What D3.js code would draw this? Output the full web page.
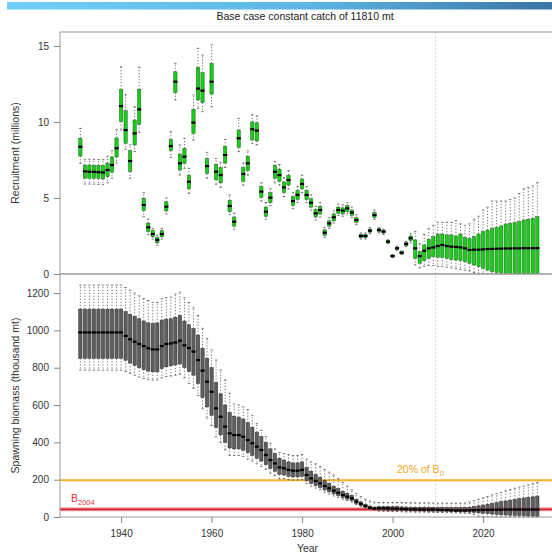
<!DOCTYPE html>
<html>
<head>
<meta charset="utf-8">
<script src="https://cdn.jsdelivr.net/npm/d3@7"></script>
<style>
  body { margin: 0; background: #fff; }
  svg { display: block; font-family: "Liberation Sans", Arial, sans-serif; }
</style>
</head>
<body>
<div id="chart"></div>
<script>
// years 1931 - 2032, one box per year
var firstYear = 1931
var lastYear = 2032
var projStart = 2009.5

// recruitment (millions): median, quartiles, 5% / 95%
var recMed = [
  8.37, 6.75, 6.73, 6.72, 6.70, 6.68, 6.84, 7.17, 8.27, 11.05,
  9.47, 7.43, 9.25, 10.83, 4.54, 3.07, 2.63, 2.24, 2.63, 4.43,
  8.42, 12.65, 7.28, 7.72, 6.07, 9.96, 12.2, 12.06, 7.1, 12.65,
  6.73, 6.51, 7.83, 4.47, 3.44, 8.93, 6.58, 7.28, 9.52, 9.43,
  5.42, 4.1, 5.02, 6.73, 6.51, 5.7, 6.18, 4.8, 5.2, 5.92,
  5.2, 4.69, 3.99, 4.21, 2.72, 3.33, 3.73, 4.21, 4.17, 4.32,
  4.04, 3.55, 2.5, 2.5, 2.85, 3.88, 2.89, 2.79, 2.13, 1.18,
  1.69, 1.4, 1.97, 2.35, 1.69, 1.18, 1.53, 1.69, 1.75, 1.84,
  1.91, 1.84, 1.8, 1.78, 1.75, 1.69, 1.58, 1.6, 1.6, 1.62,
  1.64, 1.65, 1.66, 1.67, 1.68, 1.68, 1.69, 1.69, 1.7, 1.7,
  1.7, 1.7
]
var recQ25 = [
  7.76, 6.3, 6.29, 6.28, 6.27, 6.25, 6.4, 6.7, 7.7, 10.02,
  8.6, 6.73, 8.49, 9.85, 4.17, 2.8, 2.45, 2.05, 2.45, 4.15,
  8.11, 11.93, 6.84, 7.28, 5.6, 9.25, 11.45, 11.27, 6.6, 11.84,
  6.2, 6.0, 7.3, 4.1, 3.15, 8.33, 6.1, 6.8, 8.82, 8.75,
  5.05, 3.8, 4.7, 6.3, 6.1, 5.35, 5.85, 4.5, 4.9, 5.6,
  4.9, 4.4, 3.75, 3.95, 2.55, 3.15, 3.5, 4.0, 3.95, 4.1,
  3.85, 3.4, 2.4, 2.4, 2.75, 3.72, 2.8, 2.7, 2.05, 1.12,
  1.62, 1.33, 1.88, 2.2, 1.03, 0.7, 0.88, 1.03, 1.14, 1.1,
  1.1, 1.03, 0.96, 0.92, 0.88, 0.81, 0.7, 0.59, 0.48, 0.37,
  0.26, 0.15, 0.1, 0.05, 0.02, 0, 0, 0, 0, 0,
  0, 0
]
var recQ75 = [
  8.93, 7.17, 7.17, 7.16, 7.15, 7.14, 7.3, 7.7, 8.95, 12.15,
  10.74, 8.11, 10.13, 12.15, 4.98, 3.35, 2.85, 2.4, 2.85, 4.75,
  8.86, 13.3, 7.89, 8.27, 6.5, 10.83, 13.6, 13.24, 7.6, 13.86,
  7.2, 7.0, 8.4, 4.85, 3.75, 9.47, 7.0, 7.75, 10.0, 9.95,
  5.75, 4.4, 5.35, 7.15, 6.9, 6.05, 6.5, 5.1, 5.5, 6.25,
  5.5, 4.95, 4.25, 4.45, 2.9, 3.5, 3.95, 4.4, 4.35, 4.5,
  4.2, 3.7, 2.6, 2.6, 2.95, 4.05, 2.98, 2.88, 2.2, 1.24,
  1.76, 1.47, 2.06, 2.5, 2.24, 1.47, 1.91, 2.28, 2.46, 2.63,
  2.63, 2.57, 2.57, 2.5, 2.63, 2.41, 2.35, 2.46, 2.63, 2.79,
  2.89, 3.0, 3.07, 3.16, 3.29, 3.33, 3.38, 3.45, 3.55, 3.6,
  3.66, 3.77
]
var recLo = [
  7.28, 5.92, 5.92, 5.91, 5.9, 5.88, 6.0, 6.3, 7.3, 9.47,
  8.2, 6.3, 8.05, 9.3, 3.77, 2.6, 2.3, 1.9, 2.3, 3.95,
  7.68, 11.45, 6.51, 6.95, 5.3, 8.82, 10.9, 10.68, 6.3, 11.0,
  5.9, 5.7, 7.0, 3.9, 2.95, 8.05, 5.85, 6.5, 8.6, 8.5,
  4.8, 3.6, 4.5, 6.0, 5.85, 5.1, 5.6, 4.3, 4.7, 5.35,
  4.7, 4.2, 3.55, 3.75, 2.4, 3.0, 3.35, 3.85, 3.8, 3.95,
  3.7, 3.25, 2.3, 2.3, 2.65, 3.6, 2.7, 2.6, 2.0, 1.08,
  1.56, 1.28, 1.8, 2.05, 0.6, 0.4, 0.5, 0.55, 0.55, 0.5,
  0.5, 0.45, 0.4, 0.35, 0.3, 0.25, 0.2, 0.1, 0.05, 0,
  0, 0, 0, 0, 0, 0, 0, 0, 0, 0,
  0, 0
]
var recHi = [
  9.58, 7.55, 7.55, 7.54, 7.53, 7.52, 7.75, 8.1, 9.5, 13.64,
  11.8, 8.5, 11.0, 13.6, 5.35, 3.6, 3.0, 2.55, 3.0, 5.0,
  9.36, 13.86, 8.49, 8.93, 6.95, 11.78, 14.85, 14.4, 8.0, 15.07,
  7.6, 7.35, 8.85, 5.2, 4.0, 10.24, 7.3, 8.1, 10.5, 10.4,
  6.0, 4.7, 5.6, 7.4, 7.2, 6.35, 6.8, 5.35, 5.75, 6.5,
  5.75, 5.2, 4.45, 4.7, 3.05, 3.7, 4.15, 4.6, 4.55, 4.7,
  4.4, 3.9, 2.7, 2.7, 3.05, 4.2, 3.05, 2.95, 2.25, 1.28,
  1.82, 1.52, 2.14, 2.65, 2.8, 2.0, 2.6, 3.0, 3.2, 3.4,
  3.4, 3.4, 3.4, 3.5, 3.3, 3.2, 3.3, 3.6, 3.8, 4.2,
  4.4, 4.8, 4.8, 4.8, 4.8, 4.9, 5.0, 5.3, 5.6, 5.7,
  5.8, 6.0
]

// spawning biomass (thousand mt)
var ssbMed = [
  989, 989, 989, 989, 989, 989, 989, 989, 989, 989,
  970, 952, 939, 927, 916, 904, 898, 898, 916, 927,
  930, 935, 945, 920, 905, 886, 841, 784, 725, 671,
  582, 537, 484, 448, 439, 439, 430, 412, 395, 377,
  359, 332, 305, 287, 266, 261, 252, 248, 248, 252,
  225, 207, 193, 180, 166, 154, 141, 130, 118, 109,
  100, 82, 70, 59, 50, 46, 47, 47, 46, 45,
  45, 43, 42, 41, 41, 40, 40, 40, 40, 39,
  38, 37, 36, 35, 35, 35, 36, 36, 37, 38,
  38, 39, 39, 39, 40, 40, 40, 40, 40, 40,
  40, 40
]
var ssbQ25 = [
  850, 850, 850, 850, 850, 850, 850, 850, 850, 850,
  840, 825, 812, 800, 790, 782, 778, 778, 795, 805,
  810, 815, 820, 800, 780, 760, 715, 640, 590, 545,
  480, 440, 400, 370, 365, 365, 358, 345, 330, 315,
  300, 280, 260, 245, 228, 225, 218, 215, 215, 218,
  195, 180, 168, 157, 145, 135, 124, 115, 104, 96,
  88, 73, 62, 53, 45, 41, 38, 37, 36, 35,
  35, 34, 33, 33, 32, 32, 32, 31, 31, 31,
  30, 30, 29, 28, 27, 27, 26, 24, 22, 20,
  18, 16, 14, 12, 11, 10, 9, 8, 7, 6,
  5, 4
]
var ssbQ75 = [
  1114, 1114, 1114, 1114, 1114, 1114, 1114, 1114, 1114, 1114,
  1100, 1085, 1075, 1062, 1050, 1040, 1037, 1040, 1055, 1060,
  1062, 1070, 1080, 1050, 1030, 1010, 975, 904, 850, 800,
  720, 660, 600, 560, 540, 535, 525, 505, 480, 455,
  430, 400, 365, 340, 315, 305, 295, 290, 290, 295,
  265, 245, 228, 212, 195, 180, 165, 152, 138, 127,
  116, 95, 81, 68, 58, 53, 55, 55, 55, 55,
  55, 54, 53, 52, 52, 52, 52, 51, 51, 50,
  50, 50, 50, 50, 50, 50, 52, 56, 60, 64,
  68, 72, 77, 82, 86, 90, 94, 98, 102, 105,
  108, 112
]
var ssbLo = [
  787, 787, 787, 787, 787, 787, 787, 787, 787, 787,
  780, 770, 760, 750, 742, 736, 734, 734, 745, 752,
  755, 760, 765, 745, 715, 690, 650, 580, 530, 490,
  430, 400, 360, 330, 330, 330, 325, 310, 300, 285,
  270, 255, 235, 222, 205, 205, 200, 198, 198, 200,
  180, 165, 155, 145, 133, 123, 113, 105, 95, 88,
  80, 67, 57, 48, 41, 38, 32, 31, 30, 29,
  29, 28, 27, 27, 26, 26, 26, 25, 25, 24,
  24, 23, 23, 22, 21, 20, 18, 14, 5, 3,
  2, 1, 1, 0, 0, 0, 0, 0, 0, 0,
  0, 0
]
var ssbHi = [
  1243, 1243, 1243, 1243, 1243, 1243, 1243, 1243, 1243, 1243,
  1230, 1215, 1200, 1185, 1170, 1160, 1150, 1150, 1170, 1175,
  1178, 1195, 1205, 1175, 1150, 1120, 1080, 1011, 957, 895,
  841, 787, 734, 663, 605, 600, 590, 575, 545, 500,
  465, 430, 395, 365, 345, 340, 335, 330, 330, 335,
  310, 295, 285, 270, 255, 240, 225, 205, 185, 165,
  145, 125, 110, 95, 85, 80, 78, 78, 78, 78,
  78, 78, 77, 77, 76, 76, 76, 76, 75, 75,
  75, 74, 74, 74, 74, 75, 80, 88, 95, 102,
  110, 118, 125, 132, 140, 147, 154, 160, 166, 172,
  178, 185
]

var recTicks = [0, 5, 10, 15]
var ssbTicks = [0, 200, 400, 600, 800, 1000, 1200]
var yearTicks = [1940, 1960, 1980, 2000, 2020]
var b20 = 197
var b2004 = 41

var width = 552
var height = 554
var left = 60, right = 555
var topY = 32, midY = 274, botY = 517

var years = d3.range(firstYear, lastYear + 1)

var svg = d3.select("#chart")
  .append("svg")
    .attr("width", width)
    .attr("height", height)

// blue header strip
var grad = svg.append("defs").append("linearGradient")
    .attr("id", "hdr")
    .attr("x1", "0%").attr("x2", "100%")
grad.append("stop").attr("offset", "0%").attr("stop-color", "#6fd0f7")
grad.append("stop").attr("offset", "55%").attr("stop-color", "#5cb6e6")
grad.append("stop").attr("offset", "100%").attr("stop-color", "#3b74a6")
svg.append("rect")
    .attr("x", 7).attr("y", 2)
    .attr("width", width - 7).attr("height", 7.5)
    .attr("fill", "url(#hdr)")

svg.append("text")
    .attr("x", 305).attr("y", 20)
    .attr("text-anchor", "middle")
    .style("font-size", "10.5px")
    .style("fill", "#222")
    .text("Base case constant catch of 11810 mt")

var x = d3.scaleLinear()
  .domain([1926.5, 2035.9])
  .range([left, right])

var yRec = d3.scaleLinear()
  .domain([0, 15.92])
  .range([midY, topY])

var ySsb = d3.scaleLinear()
  .domain([0, 1302])
  .range([botY, midY])

var bw = 3.3
var capW = 2.4

function drawBoxes(g, y, med, q25, q75, lo, hi, fill, stroke) {
  years.forEach(function(yr, i) {
    var cx = x(yr)
    // whiskers
    g.append("line")
      .attr("x1", cx).attr("x2", cx)
      .attr("y1", y(q75[i])).attr("y2", y(hi[i]))
      .attr("stroke", "#444").attr("stroke-width", 0.7)
      .attr("stroke-dasharray", "1.3,1.7")
    g.append("line")
      .attr("x1", cx).attr("x2", cx)
      .attr("y1", y(q25[i])).attr("y2", y(lo[i]))
      .attr("stroke", "#444").attr("stroke-width", 0.7)
      .attr("stroke-dasharray", "1.3,1.7")
    g.append("line")
      .attr("x1", cx - capW / 2).attr("x2", cx + capW / 2)
      .attr("y1", y(hi[i])).attr("y2", y(hi[i]))
      .attr("stroke", "#444").attr("stroke-width", 0.7)
    g.append("line")
      .attr("x1", cx - capW / 2).attr("x2", cx + capW / 2)
      .attr("y1", y(lo[i])).attr("y2", y(lo[i]))
      .attr("stroke", "#444").attr("stroke-width", 0.7)
    // box
    g.append("rect")
      .attr("x", cx - bw / 2)
      .attr("y", y(q75[i]))
      .attr("width", bw)
      .attr("height", Math.max(0.5, y(q25[i]) - y(q75[i])))
      .attr("fill", fill)
      .attr("stroke", stroke)
      .attr("stroke-width", 0.5)
    // median
    g.append("rect")
      .attr("x", cx - bw / 2 - 0.4)
      .attr("y", y(med[i]) - 1.1)
      .attr("width", bw + 0.8)
      .attr("height", 2.2)
      .attr("fill", "#000")
  })
}

svg.append("clipPath").attr("id", "clipTop")
  .append("rect").attr("x", left).attr("y", topY).attr("width", right - left).attr("height", midY - topY)
svg.append("clipPath").attr("id", "clipBot")
  .append("rect").attr("x", left).attr("y", midY).attr("width", right - left).attr("height", botY - midY + 4)

// projection marker
svg.append("line")
    .attr("x1", x(projStart)).attr("x2", x(projStart))
    .attr("y1", topY).attr("y2", botY)
    .attr("stroke", "#c8c8c8")
    .attr("stroke-width", 0.8)
    .attr("stroke-dasharray", "2,2")

// reference lines in the biomass panel
svg.append("line")
    .attr("x1", left).attr("x2", right)
    .attr("y1", ySsb(b20)).attr("y2", ySsb(b20))
    .attr("stroke", "#f6b12f").attr("stroke-width", 1.8)
svg.append("line")
    .attr("x1", left).attr("x2", right)
    .attr("y1", ySsb(b2004)).attr("y2", ySsb(b2004))
    .attr("stroke", "#f3a5ab").attr("stroke-width", 4)
svg.append("line")
    .attr("x1", left).attr("x2", right)
    .attr("y1", ySsb(b2004)).attr("y2", ySsb(b2004))
    .attr("stroke", "#d61f2c").attr("stroke-width", 1.6)

var gTop = svg.append("g").attr("clip-path", "url(#clipTop)")
drawBoxes(gTop, yRec, recMed, recQ25, recQ75, recLo, recHi, "#14cf14", "#2c5a2c")

var gBot = svg.append("g").attr("clip-path", "url(#clipBot)")
drawBoxes(gBot, ySsb, ssbMed, ssbQ25, ssbQ75, ssbLo, ssbHi, "#5e5e5e", "#2a2a2a")

// frames
svg.append("rect")
    .attr("x", left).attr("y", topY)
    .attr("width", right - left).attr("height", midY - topY)
    .attr("fill", "none").attr("stroke", "#999").attr("stroke-width", 1)
svg.append("rect")
    .attr("x", left).attr("y", midY)
    .attr("width", right - left).attr("height", botY - midY)
    .attr("fill", "none").attr("stroke", "#999").attr("stroke-width", 1)

// axes
function styleAxis(g) {
  g.select(".domain").remove()
  g.selectAll(".tick line").attr("stroke", "#888")
  g.selectAll(".tick text").style("font-size", "10px").style("fill", "#333")
    .style("font-family", "Liberation Sans, Arial, sans-serif")
}

svg.append("g")
    .attr("transform", "translate(" + left + ",0)")
    .call(d3.axisLeft(yRec).tickValues(recTicks).tickFormat(d3.format("d")).tickSize(6).tickPadding(5))
    .call(styleAxis)

svg.append("g")
    .attr("transform", "translate(" + left + ",0)")
    .call(d3.axisLeft(ySsb).tickValues(ssbTicks).tickFormat(d3.format("d")).tickSize(6).tickPadding(5))
    .call(styleAxis)

svg.append("g")
    .attr("transform", "translate(0," + botY + ")")
    .call(d3.axisBottom(x).tickValues(yearTicks).tickFormat(d3.format("d")).tickSize(6).tickPadding(7))
    .call(styleAxis)

// axis titles
svg.append("text")
    .attr("transform", "translate(19," + ((topY + midY) / 2) + ") rotate(-90)")
    .attr("text-anchor", "middle")
    .style("font-size", "10.5px").style("fill", "#333")
    .text("Recruitment (millions)")

svg.append("text")
    .attr("transform", "translate(19," + ((midY + botY) / 2) + ") rotate(-90)")
    .attr("text-anchor", "middle")
    .style("font-size", "10.5px").style("fill", "#333")
    .text("Spawning biomass (thousand mt)")

svg.append("text")
    .attr("x", (left + right) / 2).attr("y", 552)
    .attr("text-anchor", "middle")
    .style("font-size", "10.5px").style("fill", "#333")
    .text("Year")

// reference line labels
var t20 = svg.append("text")
    .attr("x", 397).attr("y", ySsb(b20) - 7)
    .style("font-size", "10.5px").style("fill", "#f6a623")
t20.append("tspan").text("20% of B")
t20.append("tspan").attr("dy", 2.5).style("font-size", "7.5px").text("0")

var tb = svg.append("text")
    .attr("x", 71).attr("y", ySsb(b2004) - 7)
    .style("font-size", "10.5px").style("fill", "#e8343c")
tb.append("tspan").text("B")
tb.append("tspan").attr("dy", 2.5).style("font-size", "7.5px").text("2004")
</script>
</body>
</html>
